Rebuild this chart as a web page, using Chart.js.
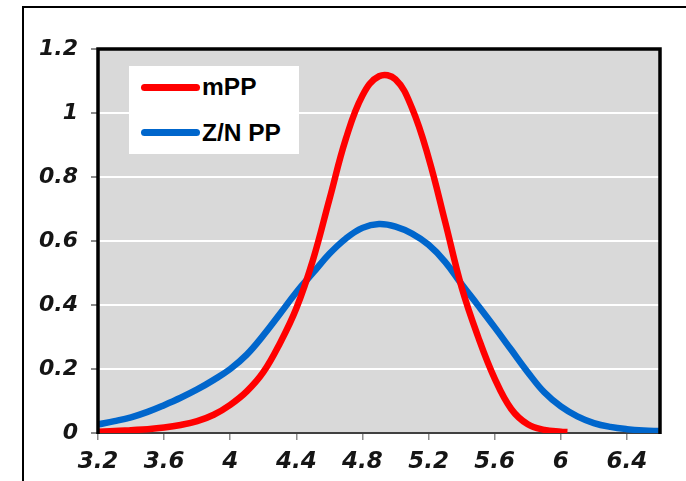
<!DOCTYPE html>
<html>
<head>
<meta charset="utf-8">
<script src="https://cdn.jsdelivr.net/npm/chart.js@4.4.1/dist/chart.umd.min.js"></script>
<style>
html,body{margin:0;padding:0;background:#fff;}
#wrap{position:relative;width:686px;height:481px;overflow:hidden;}
#frame{position:absolute;left:22px;top:6px;width:700px;height:500px;border:2px solid #000;box-sizing:border-box;}
#chart{position:absolute;left:0;top:0;}
#legend{position:absolute;left:129px;top:66px;width:170px;height:88px;background:#fff;
  font:bold 24.5px "Liberation Sans",Arial,sans-serif;color:#000;}
.item{position:absolute;left:12px;height:26px;display:flex;align-items:center;white-space:nowrap;}
.swatch{width:59px;height:7px;border-radius:4px;margin-right:2px;}
</style>
</head>
<body>
<div id="wrap">
<div id="frame"></div>
<canvas id="chart" width="686" height="481"></canvas>
<div id="legend"></div>
</div>
<script>
// values
const seriesNames = ["mPP", "Z/N PP"];

const redX = [3.2,3.3,3.4,3.5,3.6,3.7,3.8,3.9,4.0,4.1,4.2,4.3,4.4,4.5,4.6,4.7,4.8,4.9,
  5.0,5.1,5.2,5.3,5.4,5.5,5.6,5.7,5.8,5.9,6.0,6.04];
const redY = [0.004,0.006,0.009,0.012,0.017,0.025,0.037,0.057,0.088,0.13,0.19,0.28,0.39,0.54,
  0.73,0.92,1.055,1.115,1.105,1.015,0.86,0.66,0.455,0.30,0.17,0.075,0.027,0.010,0.004,0.003];

const blueX = [3.2,3.3,3.4,3.5,3.6,3.7,3.8,3.9,4.0,4.1,4.2,4.3,4.4,4.5,4.6,4.7,4.8,4.9,
  5.0,5.1,5.2,5.3,5.4,5.5,5.6,5.7,5.8,5.9,6.0,6.1,6.2,6.3,6.4,6.5,6.6];
const blueY = [0.027,0.037,0.049,0.066,0.087,0.110,0.136,0.166,0.200,0.245,0.305,0.372,0.440,0.500,
  0.560,0.608,0.641,0.653,0.645,0.623,0.588,0.535,0.465,0.398,0.330,0.260,0.190,0.127,0.083,
  0.052,0.031,0.019,0.012,0.008,0.006];

const xTicks = [3.2,3.6,4.0,4.4,4.8,5.2,5.6,6.0,6.4];
const yTicks = [0,0.2,0.4,0.6,0.8,1.0,1.2];

function toPoints(xs, ys){
    return xs.map((x,i)=>({x:x, y:ys[i]}));
}

function fmt(v){
    return String(Number(v.toFixed(1)));
}

const yFont = {family:'"DejaVu Sans", sans-serif', weight:'bold', style:'italic', size:22};
const xFont = {family:'"DejaVu Sans", sans-serif', weight:'bold', style:'italic', size:23};

const plotFrame = {
    id:"plotFrame",
    beforeDraw(chart){
        const ctx = chart.ctx, a = chart.chartArea;
        ctx.save();
        ctx.fillStyle = "#d9d9d9";
        ctx.fillRect(a.left, a.top, a.right-a.left, a.bottom-a.top);
        ctx.restore();
    },
    afterDraw(chart){
        const ctx = chart.ctx, a = chart.chartArea;
        ctx.save();
        ctx.strokeStyle = "#000";
        ctx.lineWidth = 3.5;
        ctx.beginPath();
        ctx.moveTo(a.left, a.bottom+1);
        ctx.lineTo(a.left, a.top);
        ctx.lineTo(a.right, a.top);
        ctx.lineTo(a.right, a.bottom+1);
        ctx.stroke();
        ctx.restore();
    }
};

const chart = new Chart(document.getElementById("chart"),{
    type:"line",
    data:{
        datasets:[
            {label:seriesNames[0], data:toPoints(redX,redY), borderColor:"#ff0000", borderWidth:6.5,
             pointRadius:0, tension:0.4, fill:false},
            {label:seriesNames[1], data:toPoints(blueX,blueY), borderColor:"#0066cc", borderWidth:6.5,
             pointRadius:0, tension:0.4, fill:false}
        ]
    },
    options:{
        responsive:false,
        animation:false,
        events:[],
        layout:{padding:{left:0, top:49, right:26, bottom:0}},
        plugins:{legend:{display:false}, tooltip:{enabled:false}},
        scales:{
            x:{
                type:"linear", min:3.2, max:6.6,
                afterBuildTicks(scale){ scale.ticks = xTicks.map(v=>({value:v})); },
                afterFit(scale){ scale.height = 48; },
                grid:{drawOnChartArea:false, drawTicks:true, tickLength:7, tickColor:"#8c8c8c", lineWidth:1.5},
                border:{color:"#404040", width:2},
                ticks:{font:xFont, color:"#151515", padding:8, maxRotation:0, autoSkip:false,
                       callback:v=>fmt(v)}
            },
            y:{
                min:0, max:1.2,
                afterBuildTicks(scale){ scale.ticks = yTicks.map(v=>({value:v})); },
                afterFit(scale){ scale.width = 98; },
                grid:{color:c=>(c.tick && (c.tick.value===0 || c.tick.value===1.2)) ? "rgba(0,0,0,0)" : "#ffffff",
                      lineWidth:2, drawTicks:true, tickLength:7, tickColor:"#8c8c8c"},
                border:{display:false},
                ticks:{font:yFont, color:"#151515", padding:13, callback:v=>fmt(v)}
            }
        }
    },
    plugins:[plotFrame]
});

// legend box inside the plot, built from the chart's datasets
const legendCentres = [21, 66.5];
const legend = document.getElementById("legend");
chart.data.datasets.forEach((ds,i)=>{
    const item = document.createElement("div");
    item.className = "item";
    item.style.top = (legendCentres[i] - 13) + "px";
    const sw = document.createElement("span");
    sw.className = "swatch";
    sw.style.background = ds.borderColor;
    const tx = document.createElement("span");
    tx.textContent = ds.label;
    item.appendChild(sw);
    item.appendChild(tx);
    legend.appendChild(item);
});
</script>
</body>
</html>
